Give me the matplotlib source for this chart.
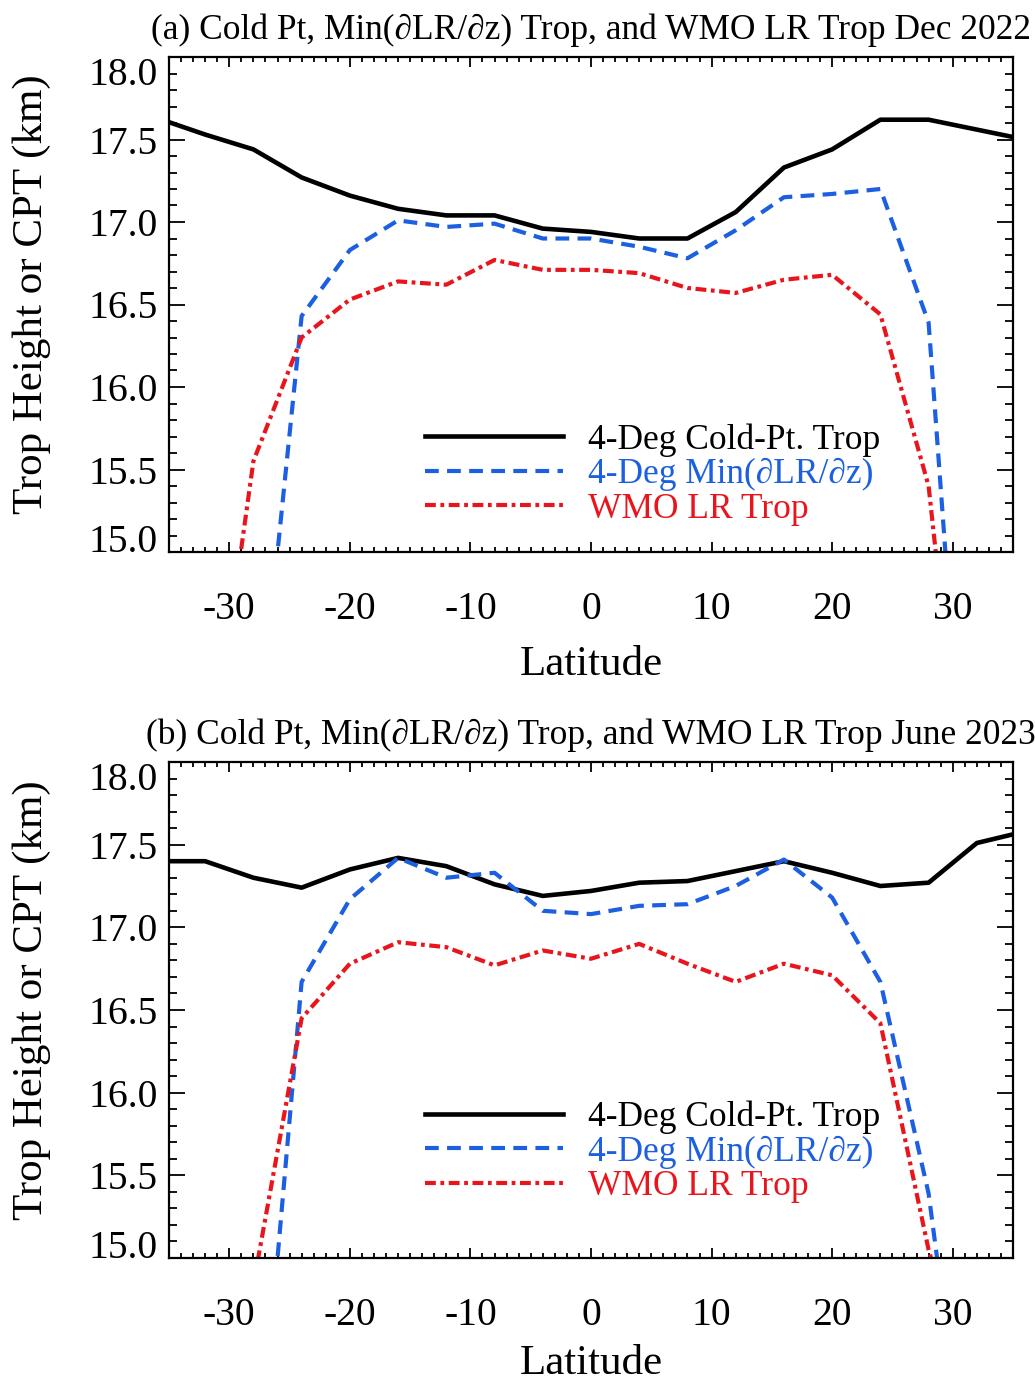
import numpy as np
import matplotlib
matplotlib.use("Agg")
import matplotlib.pyplot as plt
from matplotlib.ticker import MultipleLocator, FixedLocator

# ---------------- data ----------------
lat = [-36, -32, -28, -24, -20, -16, -12, -8, -4, 0, 4, 8, 12, 16, 20, 24, 28, 32, 36]

# (a) Dec 2022
dec_cpt = [17.63, 17.53, 17.44, 17.27, 17.16, 17.08, 17.04, 17.04, 16.96, 16.94,
           16.90, 16.90, 17.06, 17.33, 17.44, 17.62, 17.62, 17.56, 17.50]
dec_min = [np.nan, np.nan, 13.57, 16.43, 16.83, 17.01, 16.97, 16.99, 16.90, 16.90,
           16.85, 16.78, 16.95, 17.15, 17.17, 17.20, 16.39, 12.40, np.nan]
dec_wmo = [np.nan, 13.45, 15.55, 16.30, 16.53, 16.64, 16.62, 16.77, 16.71, 16.71,
           16.69, 16.60, 16.57, 16.65, 16.68, 16.44, 15.40, 12.70, np.nan]

# (b) June 2023
jun_cpt = [17.40, 17.40, 17.30, 17.24, 17.35, 17.42, 17.37, 17.26, 17.19, 17.22,
           17.27, 17.28, 17.34, 17.40, 17.33, 17.25, 17.27, 17.51, 17.58]
jun_min = [np.nan, np.nan, 13.33, 16.67, 17.17, 17.42, 17.30, 17.33, 17.10, 17.08,
           17.13, 17.14, 17.25, 17.41, 17.18, 16.67, 15.39, 13.17, np.nan]
jun_wmo = [np.nan, np.nan, 14.84, 16.45, 16.78, 16.91, 16.88, 16.77, 16.86, 16.81,
           16.90, 16.78, 16.67, 16.78, 16.71, 16.42, 15.05, 14.05, np.nan]

titles = ["(a) Cold Pt, Min(\u2202LR/\u2202z) Trop, and WMO LR Trop Dec 2022",
          "(b) Cold Pt, Min(\u2202LR/\u2202z) Trop, and WMO LR Trop June 2023"]
legend_labels = ["4-Deg Cold-Pt. Trop", "4-Deg Min(\u2202LR/\u2202z)", "WMO LR Trop"]
xticks = [-30, -20, -10, 0, 10, 20, 30]
yticks = [15.0, 15.5, 16.0, 16.5, 17.0, 17.5, 18.0]
ytick_labels = ["15.0", "15.5", "16.0", "16.5", "17.0", "17.5", "18.0"]
xlabel = "Latitude"
ylabel = "Trop Height or CPT (km)"

# ---------------- style ----------------
SERIF = ["Liberation Serif", "DejaVu Serif"]
plt.rcParams["font.family"] = SERIF
BLACK = "#000000"
BLUE = "#1c5fe0"
RED = "#e8161c"

W, H = 1035, 1387
fig = plt.figure(figsize=(W / 100, H / 100), dpi=100)

panels = [
    dict(rect=(169, 57, 1013, 552), data=(dec_cpt, dec_min, dec_wmo), title=titles[0],
         leg_anchor=(0.303, 0.053), xlab_y=665),
    dict(rect=(169, 762, 1013, 1258), data=(jun_cpt, jun_min, jun_wmo), title=titles[1],
         leg_anchor=(0.303, 0.111), xlab_y=1364),
]

for p in panels:
    x0, y0, x1, y1 = p["rect"]
    ah = y1 - y0
    ax = fig.add_axes([x0 / W, 1 - y1 / H, (x1 - x0) / W, ah / H])
    cpt, mn, wmo = p["data"]
    l1, = ax.plot(lat, cpt, color=BLACK, lw=3.3)
    l2, = ax.plot(lat, mn, color=BLUE, lw=3.0, linestyle=(0, (3.3, 2.0)))
    l3, = ax.plot(lat, wmo, color=RED, lw=3.0, linestyle=(0, (2.6, 1.1, 0.9, 1.1)))

    ax.set_xlim(-35, 35)
    ax.set_ylim(15.0, 18.0)
    ax.xaxis.set_major_locator(FixedLocator(xticks))
    ax.xaxis.set_minor_locator(MultipleLocator(1))
    ax.yaxis.set_major_locator(FixedLocator(yticks))
    ax.yaxis.set_minor_locator(MultipleLocator(0.1))
    ax.set_yticklabels(ytick_labels)
    ax.set_xticklabels([str(v) for v in xticks])

    ax.tick_params(axis="both", which="both", direction="in", top=True, right=True,
                   width=1.3, colors="black")
    ax.tick_params(axis="x", which="major", length=7.5, pad=28, labelsize=28.5)
    ax.tick_params(axis="x", which="minor", length=3.8)
    ax.tick_params(axis="y", which="major", length=11.5, pad=8, labelsize=28.5)
    ax.tick_params(axis="y", which="minor", length=5.8)
    for s in ax.spines.values():
        s.set_linewidth(1.6)

    ylabs = ax.get_yticklabels()
    ylabs[0].set_verticalalignment("baseline")
    ylabs[-1].set_verticalalignment("top")

    ax.text(0.5, -(p["xlab_y"] - y1) / ah, xlabel, transform=ax.transAxes,
            ha="center", va="center", fontsize=31)
    ax.text(-(x0 - 32) / (x1 - x0), 0.52, ylabel, transform=ax.transAxes, rotation=90,
            ha="center", va="center", fontsize=31)
    ax.text(0.5, 1 + 27 / ah, p["title"],
            transform=ax.transAxes, ha="center", va="center", fontsize=25.5)

    leg = ax.legend([l1, l2, l3], legend_labels, loc="lower left",
                    bbox_to_anchor=p["leg_anchor"], frameon=False, fontsize=25.5,
                    handlelength=3.9, handletextpad=0.7, labelspacing=0.04,
                    borderpad=0, borderaxespad=0,
                    labelcolor=[BLACK, BLUE, RED])

fig.savefig("out.png", dpi=100)
